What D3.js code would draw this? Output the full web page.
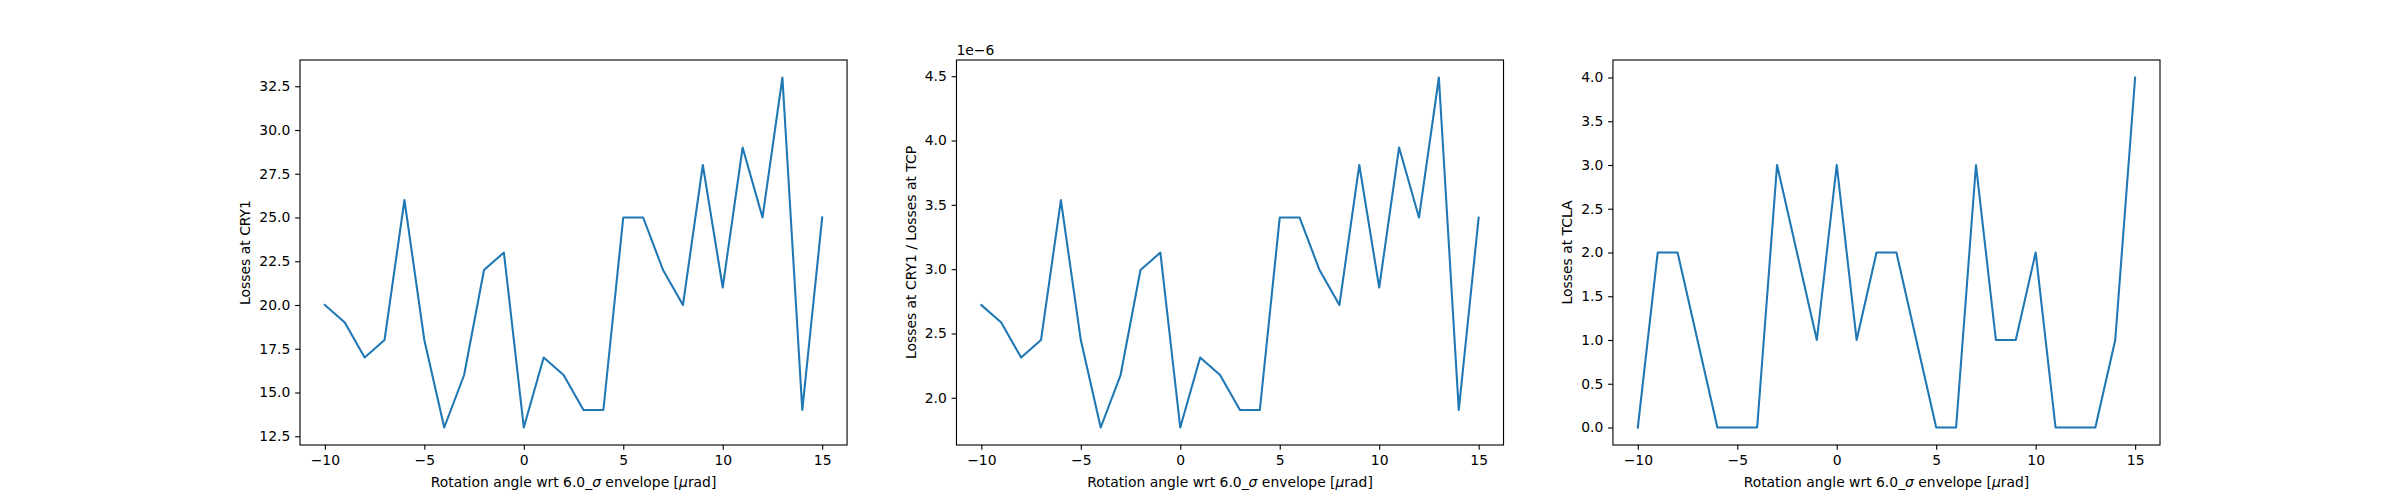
<!DOCTYPE html>
<html>
<head>
<meta charset="utf-8">
<script src="https://cdn.jsdelivr.net/npm/d3@7"></script>
<style>
    body { margin: 0; background: #fff; }
    svg { display: block; font-family: "DejaVu Sans", sans-serif; }
</style>
</head>
<body>
<div id="chart"></div>
<script>
// rotation angle (urad)
const angles = [-10, -9, -8, -7, -6, -5, -4, -3, -2, -1, 0, 1, 2, 3, 4, 5, 6, 7, 8, 9, 10, 11, 12, 13, 14, 15];

// losses at CRY1
const lossesCry1 = [20, 19, 17, 18, 26, 18, 13, 16, 22, 23, 13, 17, 16, 14, 14, 25, 25, 22, 20, 28, 21, 29, 25, 33, 14, 25];

// losses at CRY1 / losses at TCP (x 1e-6)
const lossRatio = [2.721, 2.585, 2.313, 2.449, 3.537, 2.449, 1.769, 2.177, 2.993, 3.129, 1.769, 2.313, 2.177, 1.905, 1.905,
    3.401, 3.401, 2.993, 2.721, 3.810, 2.857, 3.946, 3.401, 4.490, 1.905, 3.401];

// losses at TCLA
const lossesTcla = [0, 2, 2, 1, 0, 0, 0, 3, 2, 1, 3, 1, 2, 2, 1, 0, 0, 3, 1, 1, 2, 0, 0, 0, 1, 4];

const xTicks = [-10, -5, 0, 5, 10, 15];
const yTicksCry1 = [12.5, 15.0, 17.5, 20.0, 22.5, 25.0, 27.5, 30.0, 32.5];
const yTicksRatio = [2.0, 2.5, 3.0, 3.5, 4.0, 4.5];
const yTicksTcla = [0.0, 0.5, 1.0, 1.5, 2.0, 2.5, 3.0, 3.5, 4.0];

const panels = [
    { values: lossesCry1, ticks: yTicksCry1, label: 'Losses at CRY1', offset: null },
    { values: lossRatio, ticks: yTicksRatio, label: 'Losses at CRY1 / Losses at TCP', offset: '1e\u22126' },
    { values: lossesTcla, ticks: yTicksTcla, label: 'Losses at TCLA', offset: null }
];

const W = 2400, H = 500;
const fontSize = 13.9;
const tickLen = 4.86, tickPad = 4.86;

// matplotlib default subplot params
const figLeft = 0.125 * W, figRight = 0.9 * W;
const axW = (figRight - figLeft) / 3.4;
const gap = 0.2 * axW;
const axTop = 0.12 * H, axBottom = 0.89 * H;

// matplotlib style: unicode minus
function fmtInt(v) {
    return (v < 0 ? '\u2212' : '') + Math.abs(v);
}
function fmtOne(v) {
    return (v < 0 ? '\u2212' : '') + Math.abs(v).toFixed(1);
}

function padDomain(ext) {
    let m = (ext[1] - ext[0]) * 0.05;
    return [ext[0] - m, ext[1] + m];
}

const svg = d3.select('#chart').append('svg')
    .attr('width', W)
    .attr('height', H);

panels.forEach(function (p, i) {
    let x0 = figLeft + i * (axW + gap);
    let x = d3.scaleLinear()
        .domain(padDomain(d3.extent(angles)))
        .range([x0, x0 + axW]);
    let y = d3.scaleLinear()
        .domain(padDomain(d3.extent(p.values)))
        .range([axBottom, axTop]);

    let g = svg.append('g').attr('class', 'panel');

    let line = d3.line()
        .x(function (d, j) { return x(angles[j]); })
        .y(function (d) { return y(d); });

    g.append('path')
        .datum(p.values)
        .attr('d', line)
        .attr('fill', 'none')
        .attr('stroke', '#1f77b4')
        .attr('stroke-width', 2.08)
        .attr('stroke-linejoin', 'round')
        .attr('stroke-linecap', 'square');

    let axisX = d3.axisBottom(x)
        .tickValues(xTicks)
        .tickFormat(fmtInt)
        .tickSize(tickLen)
        .tickPadding(tickPad);

    let axisY = d3.axisLeft(y)
        .tickValues(p.ticks)
        .tickFormat(fmtOne)
        .tickSize(tickLen)
        .tickPadding(tickPad);

    let gx = g.append('g')
        .attr('transform', 'translate(0,' + axBottom + ')')
        .call(axisX);
    let gy = g.append('g')
        .attr('transform', 'translate(' + x0 + ',0)')
        .call(axisY);

    [gx, gy].forEach(function (a) {
        a.select('.domain').remove();
        a.selectAll('line').attr('stroke', '#000').attr('stroke-width', 1.11);
        a.selectAll('text')
            .attr('fill', '#000')
            .style('font-size', fontSize + 'px')
            .style('font-family', '"DejaVu Sans", sans-serif');
    });
    gx.selectAll('text').attr('dy', '0.76em');

    // frame
    g.append('rect')
        .attr('x', x0)
        .attr('y', axTop)
        .attr('width', axW)
        .attr('height', axBottom - axTop)
        .attr('fill', 'none')
        .attr('stroke', '#000')
        .attr('stroke-width', 1.11);

    // y label sits left of the widest tick label
    let maxW = 0;
    gy.selectAll('text').each(function () {
        maxW = Math.max(maxW, this.getBBox().width);
    });
    let ly = (axTop + axBottom) / 2;
    let lx = x0 - tickLen - tickPad - maxW - 5.56 - 3.3;
    g.append('text')
        .attr('transform', 'translate(' + lx + ',' + ly + ') rotate(-90)')
        .attr('text-anchor', 'middle')
        .style('font-size', fontSize + 'px')
        .text(p.label);

    let xl = g.append('text')
        .attr('x', x0 + axW / 2)
        .attr('y', 487)
        .attr('text-anchor', 'middle')
        .style('font-size', fontSize + 'px');
    xl.append('tspan').text('Rotation angle wrt 6.0_');
    xl.append('tspan').style('font-style', 'italic').text('\u03c3');
    xl.append('tspan').text(' envelope [');
    xl.append('tspan').style('font-style', 'italic').text('\u03bc');
    xl.append('tspan').text('rad]');

    if (p.offset) {
        g.append('text')
            .attr('x', x0)
            .attr('y', axTop - 5)
            .style('font-size', fontSize + 'px')
            .text(p.offset);
    }
});
</script>
</body>
</html>
